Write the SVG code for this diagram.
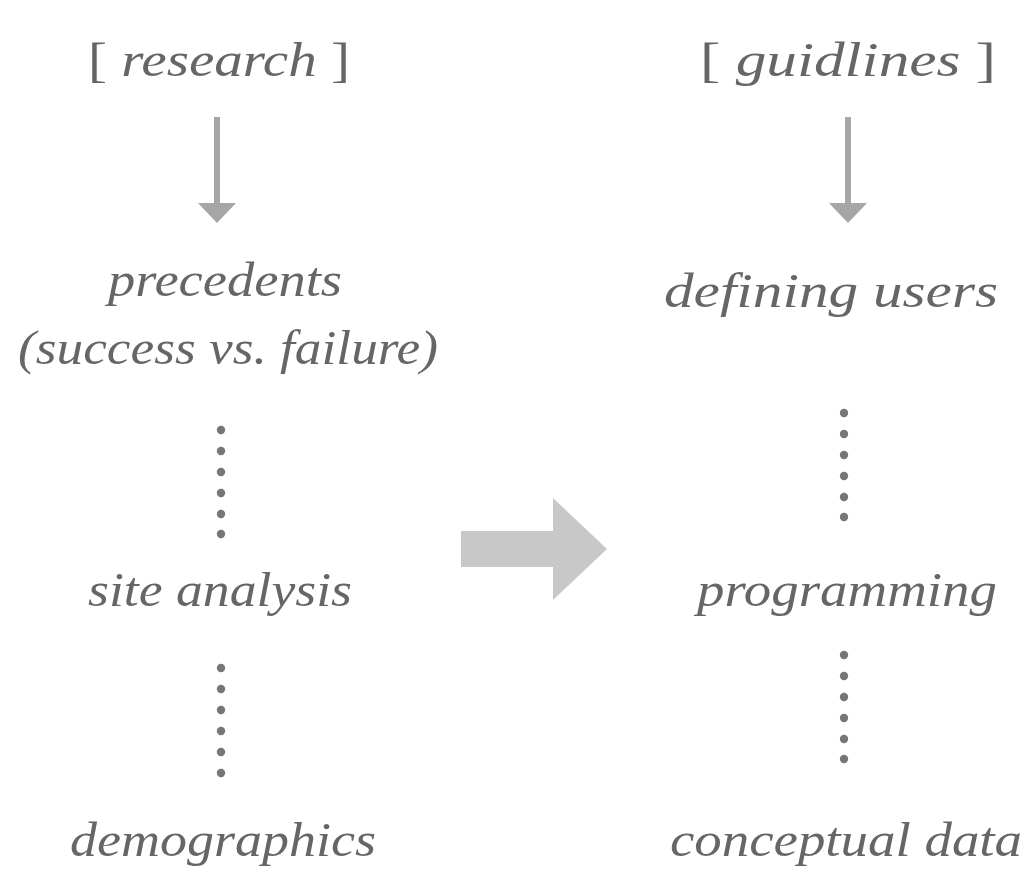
<svg xmlns="http://www.w3.org/2000/svg" width="1027" height="881" viewBox="0 0 1027 881">
<style>
text{font-family:"Liberation Serif",serif;font-style:italic;font-size:48px;fill:#666666;text-anchor:middle}
.b{font-style:normal}
.dn{fill:#a6a6a6}
.big{fill:#c8c8c8}
.dot{fill:#767676}
</style>
<defs>
<circle id="d" r="4.2" class="dot"/>
</defs>
<rect width="1027" height="881" fill="#ffffff"/>
<g id="node-research"><text x="219" y="76" textLength="262" lengthAdjust="spacingAndGlyphs"><tspan class="b">[ </tspan>research<tspan class="b"> ]</tspan></text></g>
<g id="node-guidlines"><text x="848" y="76" textLength="296" lengthAdjust="spacingAndGlyphs"><tspan class="b">[ </tspan>guidlines<tspan class="b"> ]</tspan></text></g>
<g id="node-precedents"><text x="225" y="296" textLength="234" lengthAdjust="spacingAndGlyphs">precedents</text><text x="228" y="364" textLength="420" lengthAdjust="spacingAndGlyphs">(success vs. failure)</text></g>
<g id="node-site"><text x="220" y="606" textLength="264" lengthAdjust="spacingAndGlyphs">site analysis</text></g>
<g id="node-demographics"><text x="223" y="856" textLength="306" lengthAdjust="spacingAndGlyphs">demographics</text></g>
<g id="node-defining"><text x="831" y="307" textLength="334" lengthAdjust="spacingAndGlyphs">defining users</text></g>
<g id="node-programming"><text x="847" y="606" textLength="300" lengthAdjust="spacingAndGlyphs">programming</text></g>
<g id="node-conceptual"><text x="846" y="856" textLength="352" lengthAdjust="spacingAndGlyphs">conceptual data</text></g>
<g id="connectors">
<polygon class="dn" points="214,117 220,117 220,203 236,203 217,223 198,203 214,203"/>
<polygon class="dn" points="845,117 851,117 851,203 867,203 848,223 829,203 845,203"/>
<polygon class="big" points="461,531 553,531 553,498 607,549 553,600 553,567 461,567"/>
<use href="#d" x="221" y="430"/><use href="#d" x="221" y="451"/><use href="#d" x="221" y="472"/><use href="#d" x="221" y="493"/><use href="#d" x="221" y="514"/><use href="#d" x="221" y="534"/>
<use href="#d" x="221" y="668"/><use href="#d" x="221" y="689"/><use href="#d" x="221" y="710"/><use href="#d" x="221" y="731"/><use href="#d" x="221" y="752"/><use href="#d" x="221" y="773"/>
<use href="#d" x="844" y="413"/><use href="#d" x="844" y="434"/><use href="#d" x="844" y="455"/><use href="#d" x="844" y="476"/><use href="#d" x="844" y="497"/><use href="#d" x="844" y="517"/>
<use href="#d" x="844" y="655"/><use href="#d" x="844" y="676"/><use href="#d" x="844" y="697"/><use href="#d" x="844" y="718"/><use href="#d" x="844" y="739"/><use href="#d" x="844" y="759"/>
</g>
</svg>
